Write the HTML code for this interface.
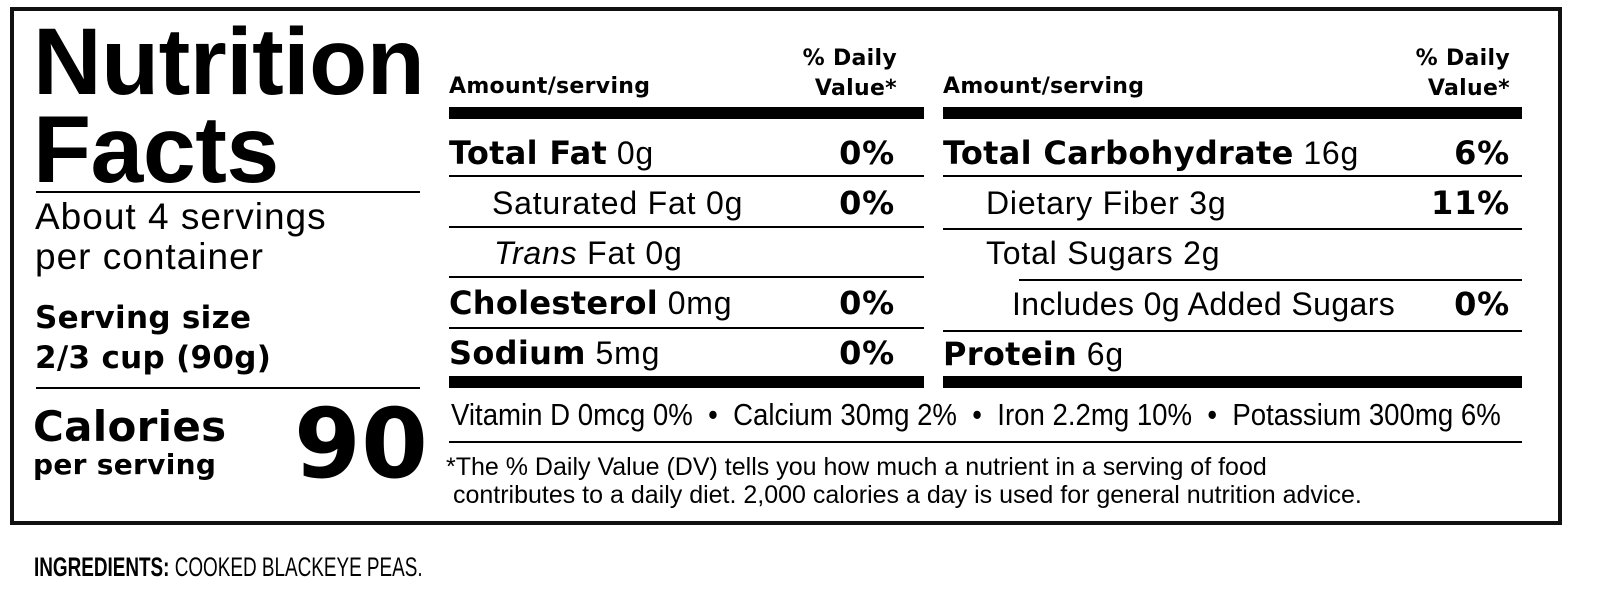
<!DOCTYPE html>
<html><head><meta charset="utf-8"><style>
html,body{margin:0;padding:0;background:#fff;}
body{width:1600px;height:601px;position:relative;overflow:hidden;font-family:"Liberation Sans",Arial,sans-serif;color:#000;}
.a{position:absolute;white-space:nowrap;}
.b{font-family:"DejaVu Sans","Liberation Sans",sans-serif;font-weight:bold;letter-spacing:0.3px;}
.ln{position:absolute;background:#000;}
.row{font-size:32px;line-height:1;letter-spacing:0.8px;}
.pct{text-align:right;}
.cond{display:inline-block;transform-origin:left center;}
</style></head><body>
<div class="a" style="left:10px;top:7px;width:1544px;height:510px;border:4px solid #111;"></div>

<div class="a" style="left:33px;top:18px;font-size:95px;line-height:88px;font-weight:bold;letter-spacing:-0.5px;">Nutrition<br>Facts</div>
<div class="ln" style="left:36px;top:191px;width:384px;height:2px;"></div>
<div class="a" style="left:35px;top:197px;font-size:37px;line-height:40px;letter-spacing:1px;">About 4 servings<br>per container</div>
<div class="a b" style="left:35px;top:298px;font-size:31px;line-height:40px;">Serving size<br>2/3 cup (90g)</div>
<div class="ln" style="left:36px;top:387px;width:384px;height:2px;"></div>
<div class="a b" style="left:33px;top:404px;font-size:42px;line-height:46px;">Calories</div>
<div class="a b" style="left:33px;top:450px;font-size:28px;line-height:30px;">per serving</div>
<div class="a b" style="left:294px;top:394px;font-size:96px;line-height:100px;">90</div>

<!-- middle column -->
<div class="a b" style="left:449px;top:74px;font-size:22px;">Amount/serving</div>
<div class="a b" style="left:740px;top:44px;width:157px;text-align:right;font-size:22px;line-height:30px;">% Daily<br>Value*</div>
<div class="ln" style="left:449px;top:107px;width:475px;height:12px;"></div>
<div class="a row" style="left:449px;top:137px;"><span class="b">Total Fat</span> 0g</div>
<div class="a row pct b" style="left:790px;top:137px;width:105px;">0%</div>
<div class="ln" style="left:449px;top:175px;width:475px;height:2px;"></div>
<div class="a row" style="left:492px;top:187px;">Saturated Fat 0g</div>
<div class="a row pct b" style="left:790px;top:187px;width:105px;">0%</div>
<div class="ln" style="left:449px;top:226px;width:475px;height:2px;"></div>
<div class="a row" style="left:494px;top:237px;"><i>Trans</i> Fat 0g</div>
<div class="ln" style="left:449px;top:276px;width:475px;height:2px;"></div>
<div class="a row" style="left:449px;top:287px;"><span class="b">Cholesterol</span> 0mg</div>
<div class="a row pct b" style="left:790px;top:287px;width:105px;">0%</div>
<div class="ln" style="left:449px;top:327px;width:475px;height:2px;"></div>
<div class="a row" style="left:449px;top:337px;"><span class="b">Sodium</span> 5mg</div>
<div class="a row pct b" style="left:790px;top:337px;width:105px;">0%</div>
<div class="ln" style="left:449px;top:376px;width:475px;height:12px;"></div>

<!-- right column -->
<div class="a b" style="left:943px;top:74px;font-size:22px;">Amount/serving</div>
<div class="a b" style="left:1353px;top:44px;width:157px;text-align:right;font-size:22px;line-height:30px;">% Daily<br>Value*</div>
<div class="ln" style="left:943px;top:107px;width:579px;height:12px;"></div>
<div class="a row" style="left:943px;top:137px;"><span class="b">Total Carbohydrate</span> 16g</div>
<div class="a row pct b" style="left:1400px;top:137px;width:110px;">6%</div>
<div class="ln" style="left:943px;top:175px;width:579px;height:2px;"></div>
<div class="a row" style="left:986px;top:187px;">Dietary Fiber 3g</div>
<div class="a row pct b" style="left:1400px;top:187px;width:110px;">11%</div>
<div class="ln" style="left:943px;top:228px;width:579px;height:2px;"></div>
<div class="a row" style="left:986px;top:237px;">Total Sugars 2g</div>
<div class="ln" style="left:1019px;top:279px;width:503px;height:2px;"></div>
<div class="a row" style="left:1012px;top:288px;letter-spacing:0.4px;">Includes 0g Added Sugars</div>
<div class="a row pct b" style="left:1400px;top:288px;width:110px;">0%</div>
<div class="ln" style="left:943px;top:330px;width:579px;height:2px;"></div>
<div class="a row" style="left:943px;top:338px;"><span class="b">Protein</span> 6g</div>
<div class="ln" style="left:943px;top:376px;width:579px;height:12px;"></div>

<div class="a" style="left:451px;top:397px;font-size:31px;line-height:36px;"><span class="cond" style="transform:scaleX(0.89);">Vitamin D 0mcg 0% &nbsp;•&nbsp; Calcium 30mg 2% &nbsp;•&nbsp; Iron 2.2mg 10% &nbsp;•&nbsp; Potassium 300mg 6%</span></div>
<div class="ln" style="left:449px;top:441px;width:1073px;height:2px;"></div>
<div class="a" style="left:446px;top:453px;font-size:25px;line-height:28px;">*The % Daily Value (DV) tells you how much a nutrient in a serving of food<br>&nbsp;contributes to a daily diet. 2,000 calories a day is used for general nutrition advice.</div>

<div class="a" style="left:34px;top:552px;font-size:27px;"><span class="cond" style="transform:scaleX(0.7);"><b>INGREDIENTS:</b> COOKED BLACKEYE PEAS.</span></div>
</body></html>
